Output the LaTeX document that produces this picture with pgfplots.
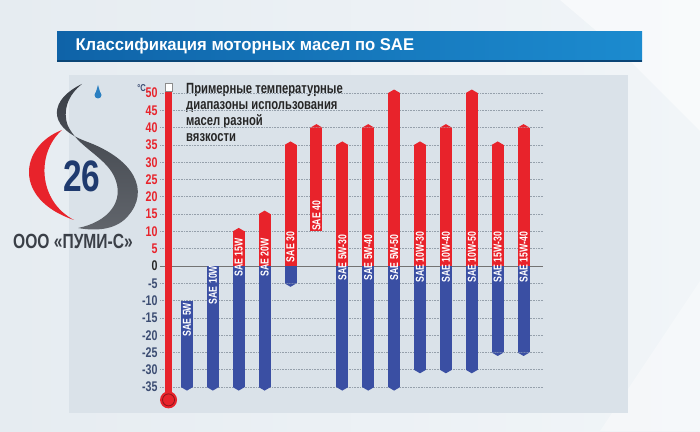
\documentclass[border=0pt]{standalone}
\usepackage{fontspec}
\setmainfont{Liberation Sans}
\newfontfamily\cond[FakeStretch=0.76]{Liberation Sans}
\newfontfamily\semicond[FakeStretch=0.98]{Liberation Sans}
\usepackage{pgfplots}
\pgfplotsset{compat=1.18}
\definecolor{bgA}{HTML}{E6ECF1}
\definecolor{bgB}{HTML}{F1F5F8}
\definecolor{panel}{HTML}{DAE2E9}
\definecolor{barred}{HTML}{E8232B}
\definecolor{barblue}{HTML}{3A4FA3}
\definecolor{titleA}{HTML}{0F63A8}
\definecolor{titleB}{HTML}{1C8BCF}
\definecolor{gridgray}{HTML}{95A0AB}
\definecolor{tickblue}{HTML}{3B4C72}
\definecolor{logogray}{HTML}{3A3F47}
\definecolor{logoblue}{HTML}{2A7FC1}
\definecolor{navy}{HTML}{1F3A6E}
\pgfdeclareplotmark{tipup}{%
  \pgfpathmoveto{\pgfqpoint{-6pt}{0pt}}%
  \pgfpathlineto{\pgfqpoint{6pt}{0pt}}%
  \pgfpathlineto{\pgfqpoint{0pt}{3.5pt}}%
  \pgfpathclose\pgfusepathqfill}
\pgfdeclareplotmark{tipdown}{%
  \pgfpathmoveto{\pgfqpoint{-6pt}{0pt}}%
  \pgfpathlineto{\pgfqpoint{6pt}{0pt}}%
  \pgfpathlineto{\pgfqpoint{0pt}{-3.5pt}}%
  \pgfpathclose\pgfusepathqfill}
\begin{document}
\begin{tikzpicture}[x=1pt,y=1pt]
\useasboundingbox (0,0) rectangle (700,431);
% background
\shade[left color=bgA, right color=bgB] (0,0) rectangle (700,431);
\fill[white, opacity=0.5] (560,431) -- (700,431) -- (700,300) -- (620,380) -- cycle;
\fill[white, opacity=0.35] (600,0) -- (700,0) -- (700,150) -- cycle;
% panel
\fill[panel] (69,18) rectangle (628,356);
% title bar
\shade[left color=titleA, right color=titleB] (57,399) rectangle (642,369);
\fill[titleA!70!black] (57,369) rectangle (642,371);
\node[anchor=west, text=white, font=\semicond\bfseries\fontsize{17}{17}\selectfont] at (72,384.5) {Классификация моторных масел по SAE};
% logo
\fill[barred] (62,301) .. controls (20,285) and (12,232) .. (74,211)
   .. controls (38,230) and (36,278) .. (62,301) -- cycle;
\shade[top color=logogray, middle color=logoblue, bottom color=logogray!80]
  (82,347) .. controls (50,332) and (46,305) .. (85,290)
  .. controls (135,272) and (150,240) .. (128,215)
  .. controls (118,203) and (100,199) .. (78,203)
  .. controls (108,209) and (126,230) .. (114,255)
  .. controls (104,275) and (78,284) .. (68,305)
  .. controls (62,320) and (68,336) .. (82,347) -- cycle;
\fill[logoblue] (98,336) circle[radius=3.5];
\fill[logoblue] (95.5,337.5) -- (98,346) -- (100.5,337.5) -- cycle;
\node[text=navy, font=\cond\bfseries\fontsize{44}{44}\selectfont] at (82,255) {26};
\node[text=logogray, font=\cond\bfseries\fontsize{20.5}{20.5}\selectfont] at (73,190) {ООО «ПУМИ-С»};
% text block
\node[anchor=north west, align=left, inner sep=0pt, text=black!85, font=\cond\bfseries\fontsize{14.8}{16.2}\selectfont] at (186,348) {Примерные температурные\\диапазоны использования\\масел разной\\вязкости};
\begin{axis}[
  at={(160pt,19.7pt)}, anchor=south west, scale only axis,
  width=383pt, height=326.9pt,
  xmin=-1.04, xmax=13.75, ymin=-42, ymax=52.5,
  axis line style={draw=none}, xtick=\empty,
  ytick={-35,-30,...,50},
  ymajorgrids, grid style={gridgray, line width=0.7pt, dash pattern=on 0.8pt off 0.8pt},
  major tick length=0pt,
  yticklabel style={font=\cond\bfseries\fontsize{14}{14}\selectfont, xshift=1pt},
  yticklabel={\ifdim\tick pt>0pt \textcolor{barred}{\pgfmathprintnumber{\tick}}\else\ifdim\tick pt<0pt \textcolor{tickblue}{\pgfmathprintnumber{\tick}}\else\textcolor{black!85}{0}\fi\fi},
  /pgf/number format/assume math mode=true,
  clip=false, unbounded coords=jump,
]
% zero line
\draw[black!55, line width=1pt] (axis cs:-1.04,0) -- (axis cs:13.75,0);
% thermometer
\fill[barred] (axis cs:-0.845,-38.7) rectangle (axis cs:-0.575,50.5);
\filldraw[fill=white, draw=black!45, line width=0.6pt] (axis cs:-0.845,50.5) rectangle (axis cs:-0.575,52.8);
\fill[barred] (axis cs:-0.71,-38.7) circle[radius=8.5pt];
\draw[barred!60!black, line width=0.8pt] (axis cs:-0.71,-38.7) circle[radius=6pt];
\node[anchor=east, inner sep=0pt, text=tickblue, font=\cond\bfseries\fontsize{10}{10}\selectfont] at (axis cs:-1.58,51.3) {°C};
% blue (low temperature) ranges
\addplot[barblue, line width=12pt, line cap=butt] coordinates {
 (0,-10) (0,-35) (0.5,nan)
 (1,0) (1,-35) (1.5,nan)
 (2,0) (2,-35) (2.5,nan)
 (3,0) (3,-35) (3.5,nan)
 (4,0) (4,-5) (4.5,nan)
 (6,0) (6,-35) (6.5,nan)
 (7,0) (7,-35) (7.5,nan)
 (8,0) (8,-35) (8.5,nan)
 (9,0) (9,-30) (9.5,nan)
 (10,0) (10,-30) (10.5,nan)
 (11,0) (11,-30) (11.5,nan)
 (12,0) (12,-25) (12.5,nan)
 (13,0) (13,-25)};
\addplot[only marks, mark=tipdown, barblue, fill=barblue] coordinates {
 (0,-35) (1,-35) (2,-35) (3,-35) (4,-5) (6,-35) (7,-35) (8,-35)
 (9,-30) (10,-30) (11,-30) (12,-25) (13,-25)};
% red (high temperature) ranges
\addplot[barred, line width=12pt, line cap=butt] coordinates {
 (2,0) (2,10) (2.5,nan)
 (3,0) (3,15) (3.5,nan)
 (4,0) (4,35) (4.5,nan)
 (5,10) (5,40) (5.5,nan)
 (6,0) (6,35) (6.5,nan)
 (7,0) (7,40) (7.5,nan)
 (8,0) (8,50) (8.5,nan)
 (9,0) (9,35) (9.5,nan)
 (10,0) (10,40) (10.5,nan)
 (11,0) (11,50) (11.5,nan)
 (12,0) (12,35) (12.5,nan)
 (13,0) (13,40)};
\addplot[only marks, mark=tipup, barred, fill=barred] coordinates {
 (2,10) (3,15) (4,35) (5,40) (6,35) (7,40) (8,50)
 (9,35) (10,40) (11,50) (12,35) (13,40)};
% labels
\tikzset{lbl/.style={rotate=90, text=white, inner sep=0pt, font=\cond\bfseries\fontsize{11.5}{11.5}\selectfont}}
\node[lbl] at (axis cs:0,-15.5) {SAE 5W};
\node[lbl] at (axis cs:1,-5.5) {SAE 10W};
\node[lbl] at (axis cs:2,2.5) {SAE 15W};
\node[lbl] at (axis cs:3,2.5) {SAE 20W};
\node[lbl] at (axis cs:4,5.5) {SAE 30};
\node[lbl] at (axis cs:5,14.5) {SAE 40};
\node[lbl] at (axis cs:6,2.5) {SAE 5W-30};
\node[lbl] at (axis cs:7,2.5) {SAE 5W-40};
\node[lbl] at (axis cs:8,2.5) {SAE 5W-50};
\node[lbl] at (axis cs:9,2.5) {SAE 10W-30};
\node[lbl] at (axis cs:10,2.5) {SAE 10W-40};
\node[lbl] at (axis cs:11,2.5) {SAE 10W-50};
\node[lbl] at (axis cs:12,2.5) {SAE 15W-30};
\node[lbl] at (axis cs:13,2.5) {SAE 15W-40};
\end{axis}
\end{tikzpicture}
\end{document}
